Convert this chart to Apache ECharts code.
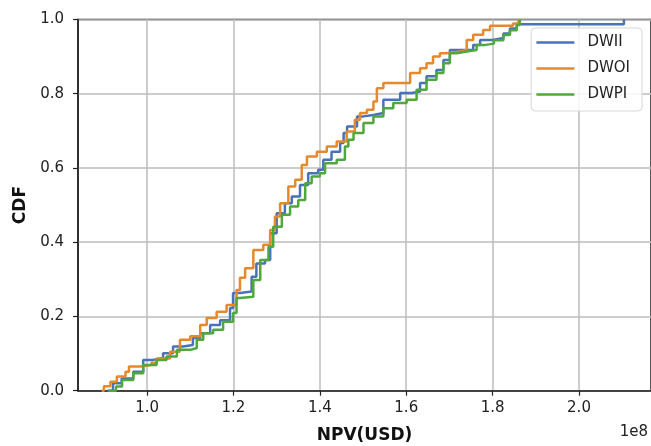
<!DOCTYPE html>
<html>
<head>
<meta charset="utf-8">
<script src="https://cdn.jsdelivr.net/npm/echarts@6/dist/echarts.min.js"></script>
<style>
  html, body { margin: 0; padding: 0; background: #fff; }
  #main { width: 651px; height: 446px; }
</style>
</head>
<body>
<div id="main"></div>
<script>
// NPV values in units of 1e8 USD, cumulative fraction
var dwii = [
  [0.908, 0.000], [0.921, 0.020], [0.941, 0.033], [0.968, 0.051], [0.991, 0.083],
  [1.014, 0.088], [1.037, 0.101], [1.060, 0.119], [1.083, 0.123], [1.106, 0.142],
  [1.123, 0.155], [1.146, 0.177], [1.169, 0.190], [1.192, 0.223], [1.199, 0.263],
  [1.215, 0.267], [1.242, 0.307], [1.253, 0.343], [1.273, 0.352], [1.285, 0.424],
  [1.300, 0.478], [1.319, 0.505], [1.335, 0.523], [1.354, 0.554], [1.373, 0.586],
  [1.396, 0.595], [1.408, 0.622], [1.427, 0.644], [1.447, 0.667], [1.455, 0.694],
  [1.463, 0.712], [1.486, 0.739], [1.501, 0.743], [1.524, 0.748], [1.547, 0.784],
  [1.586, 0.802], [1.613, 0.806], [1.632, 0.829], [1.647, 0.847], [1.670, 0.864],
  [1.686, 0.891], [1.701, 0.918], [1.755, 0.931], [1.771, 0.945], [1.800, 0.950],
  [1.825, 0.962], [1.840, 0.976], [1.856, 0.987], [2.104, 1.000]
];
var dwoi = [
  [0.895, 0.000], [0.900, 0.012], [0.915, 0.024], [0.930, 0.038], [0.950, 0.051],
  [0.958, 0.065], [0.985, 0.069], [1.010, 0.075], [1.022, 0.087], [1.053, 0.105],
  [1.076, 0.137], [1.100, 0.147], [1.123, 0.177], [1.138, 0.196], [1.161, 0.213],
  [1.184, 0.231], [1.207, 0.271], [1.215, 0.304], [1.227, 0.330], [1.246, 0.379],
  [1.269, 0.393], [1.285, 0.433], [1.296, 0.469], [1.308, 0.505], [1.327, 0.550],
  [1.343, 0.568], [1.358, 0.608], [1.370, 0.631], [1.393, 0.644], [1.416, 0.658],
  [1.439, 0.671], [1.462, 0.698], [1.481, 0.730], [1.493, 0.748], [1.509, 0.757],
  [1.524, 0.779], [1.532, 0.815], [1.547, 0.829], [1.609, 0.856], [1.632, 0.869],
  [1.647, 0.882], [1.662, 0.900], [1.678, 0.909], [1.693, 0.914], [1.725, 0.918],
  [1.740, 0.945], [1.755, 0.959], [1.778, 0.972], [1.794, 0.983], [1.847, 0.989],
  [1.860, 1.000]
];
var dwpi = [
  [0.912, 0.000], [0.928, 0.011], [0.942, 0.029], [0.968, 0.047], [0.991, 0.069],
  [1.022, 0.083], [1.045, 0.092], [1.069, 0.110], [1.100, 0.115], [1.115, 0.137],
  [1.130, 0.155], [1.153, 0.164], [1.176, 0.186], [1.199, 0.209], [1.207, 0.250],
  [1.215, 0.253], [1.246, 0.298], [1.262, 0.352], [1.281, 0.388], [1.292, 0.442],
  [1.312, 0.474], [1.331, 0.496], [1.350, 0.514], [1.366, 0.559], [1.381, 0.577],
  [1.400, 0.586], [1.412, 0.613], [1.439, 0.622], [1.458, 0.658], [1.466, 0.676],
  [1.478, 0.694], [1.501, 0.721], [1.524, 0.739], [1.547, 0.761], [1.570, 0.775],
  [1.601, 0.784], [1.624, 0.811], [1.647, 0.838], [1.670, 0.856], [1.686, 0.882],
  [1.701, 0.909], [1.717, 0.914], [1.740, 0.918], [1.763, 0.931], [1.780, 0.935],
  [1.803, 0.944], [1.825, 0.958], [1.840, 0.971], [1.856, 0.985], [1.863, 1.000]
];
var xTicks = [1.0, 1.2, 1.4, 1.6, 1.8, 2.0];
var seriesNames = ['DWII', 'DWOI', 'DWPI'];
var colors = ['#4a72b8', '#e5892c', '#4fa83c'];

var font = 'DejaVu Sans';
var chart = echarts.init(document.getElementById('main'));

function line(name, data, color) {
  return {
    name: name,
    type: 'line',
    step: 'end',
    data: data,
    symbol: 'none',
    color: color,
    lineStyle: { width: 2.5, color: color },
    clip: true,
    animation: false
  };
}

var option = {
  backgroundColor: '#fff',
  animation: false,
  grid: {
    left: 78, right: 0, top: 19.5, bottom: 55.3,
    containLabel: false,
    outerBoundsMode: 'none',
    show: true, borderColor: '#222', borderWidth: 1.5, backgroundColor: 'transparent'
  },
  legend: {
    orient: 'vertical',
    right: 9, top: 28,
    itemWidth: 38, itemHeight: 14, itemGap: 11,
    padding: [7, 12, 9, 4],
    backgroundColor: 'rgba(255,255,255,0.85)',
    borderColor: '#d8d8d8', borderWidth: 1, borderRadius: 4,
    itemStyle: { opacity: 0 },
    lineStyle: { width: 2.5 },
    textStyle: { fontFamily: font, fontSize: 15, color: '#222', padding: [0, 0, 0, 8] },
    data: seriesNames
  },
  xAxis: {
    type: 'value',
    min: 0.84, max: 2.1667,
    name: 'NPV(USD)',
    nameLocation: 'middle',
    nameGap: 36,
    nameTextStyle: { fontFamily: font, fontSize: 17, fontWeight: 'bold', color: '#111' },
    axisLine: { show: true, lineStyle: { color: '#222', width: 1.5 } },
    axisTick: { show: true, inside: false, length: 5, lineStyle: { color: '#222', width: 1.2 }, customValues: xTicks },
    axisLabel: {
      fontFamily: font, fontSize: 15, color: '#222', margin: 10,
      customValues: xTicks,
      formatter: function (v) { return v.toFixed(1); }
    },
    splitLine: { show: true, lineStyle: { color: '#bdbdbd', width: 1.5 } }
  },
  yAxis: {
    type: 'value',
    min: 0, max: 1, interval: 0.2,
    name: 'CDF',
    nameLocation: 'middle',
    nameGap: 48,
    nameTextStyle: { fontFamily: font, fontSize: 17, fontWeight: 'bold', color: '#111' },
    axisLine: { show: true, lineStyle: { color: '#222', width: 1.5 } },
    axisTick: { show: true, inside: false, length: 5, lineStyle: { color: '#222', width: 1.2 } },
    axisLabel: {
      fontFamily: font, fontSize: 15, color: '#222', margin: 14,
      formatter: function (v) { return v.toFixed(1); }
    },
    splitLine: { show: true, lineStyle: { color: '#bdbdbd', width: 1.5 } }
  },
  graphic: [{
    type: 'text',
    right: 3, top: 425,
    style: { text: '1e8', fontFamily: font, fontSize: 15, fill: '#222' }
  }],
  series: [
    line(seriesNames[0], dwii, colors[0]),
    line(seriesNames[1], dwoi, colors[1]),
    line(seriesNames[2], dwpi, colors[2])
  ]
};
chart.setOption(option);
</script>
</body>
</html>
